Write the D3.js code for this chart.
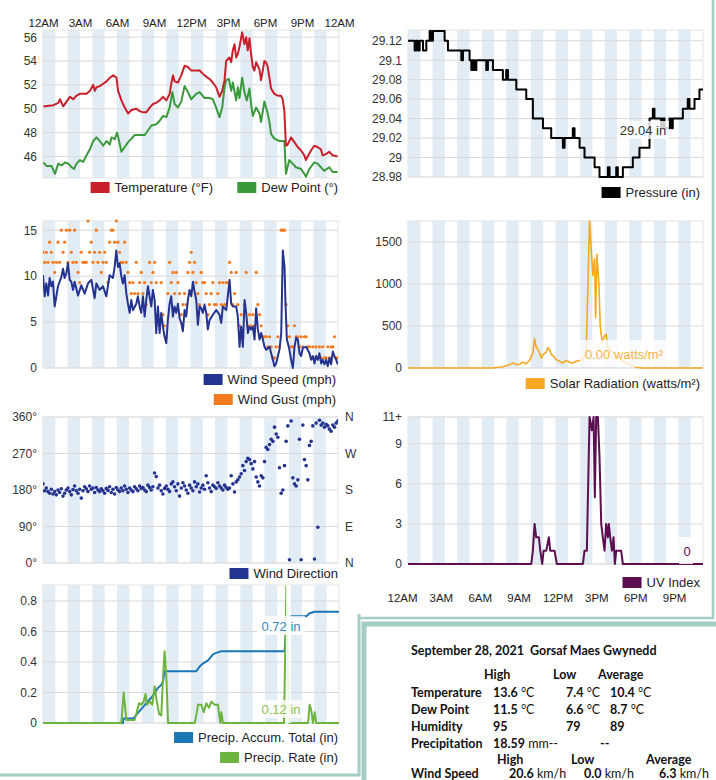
<!DOCTYPE html>
<html><head><meta charset="utf-8">
<script src="https://cdn.jsdelivr.net/npm/d3@7"></script>
<style>
body{margin:0;background:#fff}
svg{display:block}
</style>
</head><body>
<svg id="c" width="716" height="780"></svg>
<script>
// ---------------- DATA ----------------
const hourTicks = [0,3,6,9,12,15,18,21,24];
const hourLabels = ["12AM","3AM","6AM","9AM","12PM","3PM","6PM","9PM","12AM"];
const stripeStarts = [0,2,4,6,8,10,12,14,16,18,20,22];

const tempTicks = [46,48,50,52,54,56];
const pressureTicks = [28.98,29,29.02,29.04,29.06,29.08,29.1,29.12];
const windTicks = [0,5,10,15];
const solarTicks = [0,500,1000,1500];
const dirTicks = [0,90,180,270,360];
const compassLabels = ["N","E","S","W","N"];
const uvTicks = [0,3,6,9,11];
const precipTicks = [0,0.2,0.4,0.6,0.8];

// [hour, °F]
const temperature = [[0.03,50.2],[0.84,50.3],[1.24,50.5],[1.37,50.8],[1.64,50.2],[1.91,50.6],[2.18,51.0],[2.45,50.8],[2.72,51.1],[2.99,51.25],[3.53,51.25],[3.80,51.5],[4.07,52.0],[4.20,51.5],[4.34,51.8],[4.61,51.9],[4.88,52.1],[5.15,52.3],[5.42,52.6],[5.69,52.8],[5.96,52.6],[6.09,51.5],[6.36,50.7],[6.63,50.1],[6.90,49.6],[7.17,49.9],[7.57,50.0],[7.84,49.8],[8.11,49.7],[8.38,49.7],[8.65,50.1],[8.92,50.4],[9.19,50.5],[9.46,50.7],[9.73,51.0],[10.0,50.7],[10.27,51.25],[10.40,52.1],[10.54,52.8],[10.67,52.3],[10.94,52.2],[11.21,52.8],[11.48,53.6],[11.75,53.5],[12.02,53.2],[12.29,53.2],[12.70,53.2],[13.10,52.8],[13.50,52.5],[13.77,52.2],[14.04,51.8],[14.31,51.0],[14.53,51.5],[14.72,52.4],[14.85,54.0],[15.12,54.3],[15.26,53.9],[15.39,54.9],[15.53,55.4],[15.66,54.3],[15.80,54.6],[15.93,55.2],[16.15,56.4],[16.33,55.4],[16.47,56.0],[16.60,54.9],[16.74,55.9],[16.87,54.6],[17.01,53.5],[17.14,53.2],[17.28,53.9],[17.55,53.3],[17.68,52.4],[17.82,53.2],[17.95,54.0],[18.09,53.9],[18.22,53.5],[18.36,52.6],[18.49,51.7],[18.76,51.25],[19.03,51.1],[19.30,51.1],[19.43,50.8],[19.57,49.8],[19.70,46.9],[19.84,47.0],[20.11,47.6],[20.38,47.2],[20.65,46.8],[20.92,46.5],[21.19,46.1],[21.32,45.7],[21.46,46.0],[21.73,46.5],[21.99,46.9],[22.26,46.8],[22.53,46.6],[22.67,46.1],[22.94,46.2],[23.21,46.4],[23.48,46.1],[23.88,46.0]];

const dewPoint = [[0.03,45.5],[0.30,45.2],[0.70,45.2],[0.97,44.55],[1.24,45.4],[1.51,45.25],[1.78,45.5],[2.05,45.4],[2.32,45.1],[2.51,44.95],[2.72,45.4],[2.99,45.7],[3.26,45.55],[3.53,46.1],[3.80,46.6],[4.07,47.3],[4.34,47.6],[4.61,47.3],[4.88,46.9],[5.15,47.3],[5.42,47.0],[5.55,47.6],[5.82,47.45],[6.01,48.0],[6.17,47.3],[6.36,46.4],[6.63,46.8],[6.90,47.2],[7.17,47.5],[7.44,47.8],[7.84,47.8],[8.25,47.8],[8.52,48.2],[8.79,48.6],[9.19,48.7],[9.46,49.0],[9.73,49.4],[10.0,49.3],[10.27,50.1],[10.49,51.4],[10.67,50.4],[10.94,50.1],[11.21,50.6],[11.48,51.9],[11.75,51.4],[12.02,50.8],[12.43,51.25],[12.70,51.4],[13.10,50.9],[13.50,50.9],[13.77,50.8],[14.04,50.1],[14.31,49.3],[14.53,50.1],[14.72,51.8],[14.85,52.4],[15.07,52.5],[15.26,51.5],[15.39,52.2],[15.66,50.7],[15.80,51.8],[15.93,50.9],[16.15,52.6],[16.33,51.4],[16.52,50.7],[16.74,51.7],[16.87,50.4],[17.01,49.4],[17.28,50.1],[17.55,49.6],[17.68,48.9],[17.95,50.6],[18.09,50.1],[18.22,49.6],[18.36,48.9],[18.49,47.9],[18.76,47.5],[19.16,47.3],[19.57,47.3],[19.70,44.55],[19.97,45.7],[20.24,45.4],[20.51,45.1],[20.92,44.95],[21.19,44.55],[21.32,44.3],[21.59,44.95],[21.99,45.5],[22.26,45.4],[22.53,45.1],[22.80,44.8],[23.21,45.1],[23.48,44.7],[23.88,44.7]];

// [hour, inHg] (step)
const pressure = [[0,29.12],[0.54,29.11],[0.68,29.12],[0.81,29.11],[0.95,29.12],[1.22,29.11],[1.49,29.12],[1.76,29.13],[1.90,29.12],[2.03,29.13],[2.98,29.12],[3.25,29.11],[4.34,29.10],[4.47,29.11],[5.01,29.10],[5.15,29.09],[5.28,29.10],[5.42,29.09],[5.56,29.10],[6.37,29.09],[6.50,29.10],[6.91,29.09],[7.72,29.08],[7.99,29.09],[8.13,29.08],[8.81,29.07],[9.62,29.06],[10.16,29.04],[10.98,29.03],[11.65,29.02],[12.60,29.01],[12.74,29.02],[13.41,29.03],[13.55,29.02],[13.96,29.01],[14.36,29.00],[15.18,28.99],[15.58,28.98],[16.26,28.99],[16.40,28.98],[16.94,28.99],[17.07,28.98],[17.48,28.99],[18.29,29.00],[18.83,29.01],[19.65,29.04],[19.92,29.05],[20.05,29.04],[20.60,29.03],[20.73,29.04],[20.87,29.03],[21.27,29.04],[21.41,29.03],[21.54,29.04],[22.36,29.05],[22.76,29.06],[22.90,29.05],[23.31,29.06],[23.71,29.07],[24,29.07]];

// [hour, mph]
const windSpeed = [[0.00,10.1],[0.14,7.8],[0.27,9.2],[0.41,7.9],[0.54,9.8],[0.68,8.9],[0.81,9.4],[0.95,6.7],[1.22,8.9],[1.49,9.9],[1.63,10.8],[1.76,9.8],[1.90,10.3],[2.03,11.4],[2.17,9.6],[2.30,9.4],[2.44,8.5],[2.57,9.4],[2.85,7.9],[3.12,9.0],[3.39,8.1],[3.66,9.2],[3.93,9.6],[4.20,7.6],[4.34,9.2],[4.61,8.5],[4.88,8.9],[5.15,7.8],[5.42,10.1],[5.69,9.8],[5.83,11.0],[5.96,12.8],[6.10,11.0],[6.23,11.4],[6.37,10.0],[6.50,9.2],[6.64,10.1],[6.78,8.1],[6.91,7.0],[7.05,6.0],[7.18,7.4],[7.32,6.3],[7.59,7.0],[7.72,7.8],[7.86,6.7],[7.99,6.0],[8.13,7.8],[8.27,5.6],[8.40,7.4],[8.54,8.9],[8.67,7.8],[8.81,6.7],[8.94,8.5],[9.08,7.4],[9.21,3.8],[9.35,6.7],[9.49,3.8],[9.62,6.0],[9.76,4.5],[9.89,3.4],[10.03,2.7],[10.16,5.2],[10.30,7.0],[10.43,7.8],[10.57,5.6],[10.70,6.7],[10.84,6.0],[10.98,7.0],[11.11,5.4],[11.25,4.9],[11.38,4.0],[11.52,6.3],[11.65,5.6],[11.79,7.4],[11.92,8.5],[12.06,7.8],[12.20,9.4],[12.33,8.3],[12.47,7.4],[12.60,4.7],[12.74,6.7],[12.87,6.5],[13.01,6.0],[13.14,6.9],[13.28,6.0],[13.41,4.2],[13.55,5.2],[13.82,5.8],[14.09,6.3],[14.36,5.8],[14.50,4.9],[14.63,6.7],[14.91,6.3],[15.18,9.6],[15.31,7.0],[15.45,6.7],[15.72,6.7],[15.85,5.6],[15.99,2.3],[16.12,4.5],[16.26,2.3],[16.40,7.4],[16.53,6.0],[16.67,3.8],[16.80,4.5],[16.94,4.2],[17.07,4.5],[17.21,3.1],[17.34,6.5],[17.48,4.2],[17.62,3.1],[17.75,3.8],[17.89,3.1],[18.02,2.3],[18.16,2.0],[18.43,2.3],[18.56,1.6],[18.70,0.9],[18.83,0.2],[18.97,0.5],[19.11,1.3],[19.24,2.0],[19.38,3.8],[19.51,12.8],[19.65,11.0],[19.73,7.0],[19.84,3.1],[20.00,2.3],[20.19,0.9],[20.33,0.0],[20.46,2.3],[20.60,3.3],[20.73,3.1],[20.87,1.6],[21.00,1.3],[21.14,2.2],[21.41,2.3],[21.68,1.6],[21.82,0.9],[21.95,1.3],[22.09,0.5],[22.22,1.3],[22.36,0.9],[22.49,1.6],[22.63,0.5],[22.76,0.9],[22.90,0.4],[23.04,0.9],[23.17,0.2],[23.31,1.1],[23.44,0.4],[23.58,1.8],[23.71,1.3],[23.85,0.9],[23.98,0.4]];

// regularly sampled series (one reading every ~8.1 minutes from midnight)
const sampleStepHours = 0.1355;
const windGust = [12.6,11.5,12.6,11.5,13.7,12.6,11.5,10.4,11.5,13.7,
11.5,15.0,12.6,13.7,15.0,11.5,15.0,12.6,11.5,15.0,
11.5,10.4,9.3,12.6,11.5,11.5,11.5,16.0,12.6,13.7,
11.5,12.6,15.0,11.5,12.6,10.4,11.5,12.6,11.5,9.3,
13.7,15.0,15.0,13.7,16.0,13.7,12.6,11.5,11.5,13.7,
11.5,10.4,9.3,8.1,9.3,8.1,11.5,8.1,9.3,10.4,
8.1,9.3,6.9,8.1,11.5,9.3,10.4,11.5,9.3,5.8,
4.6,9.3,5.8,4.6,3.4,8.1,11.5,9.3,10.4,8.1,
10.4,9.3,8.1,5.8,6.9,8.1,6.9,10.4,11.5,12.6,
10.4,11.5,9.3,8.1,6.9,10.4,9.3,9.3,8.1,5.8,
6.9,8.1,9.3,6.9,6.9,8.1,9.3,6.9,9.3,6.9,
9.3,9.3,11.5,10.4,6.9,8.1,10.4,6.9,4.6,5.8,
3.4,6.9,10.4,4.6,5.8,4.6,5.8,4.6,10.4,6.9,
5.8,4.6,3.4,3.4,3.4,2.3,3.4,2.3,1.1,1.1,
2.3,3.4,2.3,15.0,15.0,15.0,6.9,4.6,3.4,2.3,
2.3,4.6,3.4,3.4,2.3,3.4,2.3,3.4,3.4,2.3,
2.3,1.1,2.3,1.1,2.3,1.1,2.3,1.1,2.3,1.1,
1.1,2.3,1.1,2.3,2.3,3.4,1.1,1.1];

const windDirection = [195,178,185,176,172,182,170,176,168,180,
174,183,165,172,180,185,176,168,181,190,
178,172,182,160,178,188,183,176,190,182,
185,174,186,180,176,183,178,172,184,179,
188,174,182,170,186,180,176,185,178,190,
182,174,185,180,176,188,183,178,190,184,
186,180,176,192,186,180,188,222,213,185,
192,178,170,184,190,182,176,195,200,188,
178,195,165,185,198,190,180,172,192,185,
178,200,188,195,175,185,192,182,215,198,
185,176,192,188,184,198,190,185,180,192,
186,182,185,215,195,175,200,205,212,220,
240,228,250,258,255,245,232,250,212,200,
190,215,210,250,285,280,292,305,300,335,
318,310,235,172,180,240,300,338,8,350,
210,195,190,205,305,8,340,255,240,205,
290,300,338,10,345,88,352,340,345,335,
342,338,330,325,340,335,345,350];

// [hour, W/m²]
const solar = [[0,0],[6.91,0],[7.18,5],[7.72,15],[8.27,40],[8.54,60],[8.81,40],[9.08,45],[9.35,70],[9.62,50],[9.89,90],[10.16,180],[10.30,350],[10.43,250],[10.57,220],[10.70,180],[10.84,120],[10.98,160],[11.25,190],[11.38,240],[11.52,220],[11.65,160],[11.79,150],[12.06,100],[12.33,80],[12.60,60],[12.87,90],[13.14,70],[13.41,60],[13.69,80],[13.96,90],[14.23,100],[14.50,200],[14.77,1750],[14.91,1400],[15.04,1100],[15.18,1300],[15.26,600],[15.37,1350],[15.53,1000],[15.64,500],[15.80,300],[15.99,380],[16.12,400],[16.26,250],[16.53,200],[16.94,150],[17.48,80],[18.02,40],[18.56,10],[19.11,0],[24,0]];

// [hour, UV index]
const uvIndex = [[0,0],[10.03,0],[10.16,1],[10.30,3],[10.43,2],[10.65,2],[10.76,1],[10.92,0],[11.03,1],[11.25,1],[11.46,2],[11.57,1],[11.92,1],[12.11,0],[14.23,0],[14.36,1],[14.55,1],[14.77,11],[14.96,10],[15.10,11],[15.20,5],[15.31,11],[15.45,11],[15.58,8],[15.72,3],[15.85,2],[15.99,1],[16.12,3],[16.26,2],[16.34,3],[16.45,2],[16.59,1],[16.72,2],[16.83,0],[16.94,1],[17.34,1],[17.48,0],[24,0]];

// [hour, in]
const precipAccum = [[0,0],[6.49,0],[6.50,0.03],[7.30,0.03],[7.43,0.04],[7.84,0.08],[8.38,0.13],[8.92,0.18],[9.32,0.23],[9.59,0.25],[9.73,0.27],[9.86,0.34],[12.43,0.34],[12.70,0.37],[12.97,0.39],[13.38,0.41],[13.78,0.45],[14.05,0.46],[14.46,0.47],[19.59,0.47],[19.78,0.70],[21.35,0.70],[21.62,0.72],[22.03,0.73],[24,0.73]];
const precipRate = [[0,0],[6.35,0],[6.54,0.20],[6.76,0.02],[7.43,0.02],[7.57,0.06],[7.78,0.13],[7.97,0.12],[8.16,0.14],[8.32,0.19],[8.43,0.12],[8.65,0.14],[8.86,0.12],[9.05,0.24],[9.19,0.16],[9.41,0.06],[9.59,0.05],[9.73,0.30],[9.86,0.47],[10.0,0.30],[10.14,0],[12.30,0],[12.43,0.05],[12.57,0.12],[12.84,0.12],[13.03,0.07],[13.24,0.13],[13.46,0.10],[13.65,0.14],[13.92,0.12],[14.19,0.12],[14.27,0.06],[14.38,0],[14.46,0.07],[14.59,0],[19.54,0],[19.73,0.90],[19.95,0],[21.49,0],[21.62,0.12],[21.76,0.08],[21.89,0],[22.03,0.07],[22.16,0],[24,0]];

const tableTitle = "September 28, 2021  Gorsaf Maes Gwynedd";
const tableHeader = ["High","Low","Average"];
const tableRows = [
  ["Temperature", ["13.6"," °C"], ["7.4"," °C"], ["10.4"," °C"]],
  ["Dew Point",   ["11.5"," °C"], ["6.6"," °C"], ["8.7"," °C"]],
  ["Humidity",    ["95",""], ["79",""], ["89",""]],
  ["Precipitation", ["18.59"," mm--"], ["--",""], null]
];
const windRow = ["Wind Speed", ["20.6"," km/h"], ["0.0"," km/h"], ["6.3"," km/h"]];

// ---------------- DRAWING ----------------
const FONT = '"Liberation Sans", Arial, Helvetica, sans-serif';
const STRIPE = "#e2ecf5";
const svg = d3.select("#c");
let clipN = 0;

function makePanel(o){
  const xs = d3.scaleLinear().domain([0,24]).range([o.x0,o.x1]);
  const ys = d3.scaleLinear().domain(o.domain).range([o.y1,o.y0]);
  const g = svg.append("g");
  g.append("rect").attr("x",o.x0).attr("y",o.y0).attr("width",o.x1-o.x0).attr("height",o.y1-o.y0).attr("fill","#fff");
  g.selectAll("rect.s").data(stripeStarts).join("rect").attr("class","s")
    .attr("x",d=>xs(d)).attr("y",o.y0).attr("width",d=>xs(d+1)-xs(d)).attr("height",o.y1-o.y0).attr("fill",STRIPE);
  g.selectAll("line.gy").data(o.ticks).join("line").attr("class","gy")
    .attr("x1",o.x0).attr("x2",o.x1).attr("y1",d=>ys(d)).attr("y2",d=>ys(d))
    .attr("stroke","#d9d9d9").attr("stroke-width",1);
  g.append("rect").attr("x",o.x0).attr("y",o.y0).attr("width",o.x1-o.x0).attr("height",o.y1-o.y0)
    .attr("fill","none").attr("stroke","#e3e3e3");
  const ax = d3.axisLeft(ys).tickValues(o.ticks).tickFormat(o.fmt).tickSize(0).tickPadding(6);
  const ag = g.append("g").attr("transform",`translate(${o.x0},0)`).call(ax);
  ag.select(".domain").remove();
  ag.selectAll("text").attr("font-size",12).attr("fill","#333").attr("font-family",FONT);
  const id = "clip"+(clipN++);
  svg.append("clipPath").attr("id",id).append("rect")
    .attr("x",o.x0).attr("y",o.y0-2).attr("width",o.x1-o.x0).attr("height",o.y1-o.y0+3);
  const plot = svg.append("g").attr("clip-path",`url(#${id})`);
  return {xs,ys,g,plot};
}

function legend(xEnd, baseline, color, label){
  const t = svg.append("text").attr("x",xEnd).attr("y",baseline).attr("text-anchor","end")
    .attr("font-size",13).attr("font-family",FONT).attr("fill","#222").text(label);
  const w = t.node().getComputedTextLength();
  svg.append("rect").attr("x",xEnd-w-24).attr("y",baseline-10).attr("width",19).attr("height",11).attr("fill",color);
}

function drawLine(p, data, color, width, curve){
  const ln = d3.line().x(d=>p.xs(d[0])).y(d=>p.ys(d[1]));
  if(curve) ln.curve(curve);
  p.plot.append("path").datum(data).attr("d",ln).attr("fill","none")
    .attr("stroke",color).attr("stroke-width",width).attr("stroke-linejoin","round");
}

function tip(x,y,w,h,op){
  svg.append("rect").attr("x",x).attr("y",y).attr("width",w).attr("height",h).attr("fill","#fff").attr("opacity",op);
}
function tipText(x,y,color,txt){
  svg.append("text").attr("x",x).attr("y",y).attr("text-anchor","middle").attr("font-size",13)
    .attr("font-family",FONT).attr("fill",color).text(txt);
}

const fmtPlain = d=>String(+d.toFixed(2));

// Temperature panel
const pT = makePanel({x0:43,x1:339,y0:30,y1:178,domain:[44.2,56.6],ticks:tempTicks,fmt:fmtPlain});
const topAx = d3.axisTop(pT.xs).tickValues(hourTicks).tickFormat((d,i)=>hourLabels[i]).tickSize(0).tickPadding(3);
const tg = svg.append("g").attr("transform","translate(0,30)").call(topAx);
tg.select(".domain").remove();
tg.selectAll("text").attr("font-size",11.5).attr("fill","#222").attr("font-family",FONT);
drawLine(pT, dewPoint, "#3a9a3b", 2);
drawLine(pT, temperature, "#c8202b", 2);
legend(213,192,"#c8202b","Temperature (°F)");
legend(338,192,"#3a9a3b","Dew Point (°)");

// Pressure panel
const pP = makePanel({x0:408,x1:703,y0:30,y1:177,domain:[28.98,29.131],ticks:pressureTicks,fmt:fmtPlain});
drawLine(pP, pressure, "#000", 2, d3.curveStepAfter);
tip(617,121,52,18,0.8);
tipText(643,135,"#333","29.04 in");
legend(700,197,"#000","Pressure (in)");

// Wind panel
const pW = makePanel({x0:43,x1:338,y0:221,y1:368,domain:[0,16],ticks:windTicks,fmt:fmtPlain});
pW.plot.selectAll("circle.g").data(windGust).join("circle").attr("class","g")
  .attr("cx",(d,i)=>pW.xs(i*sampleStepHours)).attr("cy",d=>pW.ys(d)).attr("r",1.6).attr("fill","#f47a20");
drawLine(pW, windSpeed, "#24338f", 2);
legend(336,384,"#24338f","Wind Speed (mph)");
legend(336,404,"#f47a20","Wind Gust (mph)");

// Solar panel
const pS = makePanel({x0:408,x1:703,y0:221,y1:368,domain:[0,1750],ticks:solarTicks,fmt:fmtPlain});
drawLine(pS, solar, "#f6a820", 1.6);
tip(580,340,90,27,0.75);
tipText(624,359,"#f5b443","0.00 watts/m²");
legend(700,388,"#f6a820","Solar Radiation (watts/m²)");

// Wind direction panel
const pD = makePanel({x0:43,x1:338,y0:417,y1:563,domain:[0,360],ticks:dirTicks,fmt:d=>d+"°"});
pD.plot.selectAll("circle.d").data(windDirection).join("circle").attr("class","d")
  .attr("cx",(d,i)=>pD.xs(i*sampleStepHours)).attr("cy",d=>pD.ys(d)).attr("r",1.8).attr("fill","#24338f");
svg.append("g").selectAll("text").data(dirTicks).join("text")
  .attr("x",345).attr("y",d=>pD.ys(d)).attr("dy","0.35em").attr("font-size",12).attr("fill","#333")
  .attr("font-family",FONT).text((d,i)=>compassLabels[i]);
legend(338,578,"#24338f","Wind Direction");

// UV panel
const pU = makePanel({x0:408,x1:703,y0:417,y1:564,domain:[0,11],ticks:uvTicks,fmt:d=>d===11?"11+":String(d)});
drawLine(pU, uvIndex, "#5c0f50", 2);
tip(679,537,14,27,0.85);
tipText(687,556,"#5c0f50","0");
legend(700,587,"#5c0f50","UV Index");
const labScale = d3.scaleLinear().domain([0,24]).range([402,713]);
const bg = svg.append("g").attr("transform","translate(0,591)")
  .call(d3.axisBottom(labScale).tickValues(hourTicks.slice(0,8)).tickFormat((d,i)=>hourLabels[i]).tickSize(0).tickPadding(3));
bg.select(".domain").remove();
bg.selectAll("text").attr("font-size",11.5).attr("fill","#222").attr("font-family",FONT);

// Precip panel
const pR = makePanel({x0:43,x1:339,y0:585,y1:723,domain:[0,0.905],ticks:precipTicks,fmt:d=>d===0?"0":d.toFixed(1)});
drawLine(pR, precipAccum, "#1b76b6", 2);
drawLine(pR, precipRate, "#6cb33f", 2);
tip(286,585,5,138,0.85);
tip(257,616,48,19,0.8);
tipText(281,631,"#3a87c0","0.72 in");
tip(257,700,48,18,0.8);
tipText(281,714,"#8fc24c","0.12 in");
legend(338,742,"#1b76b6","Precip. Accum. Total (in)");
legend(338,762,"#6cb33f","Precip. Rate (in)");

// Frames
const FR = "#a4cdc6";
svg.append("path").attr("d","M360,618 H713 V0").attr("fill","none").attr("stroke",FR).attr("stroke-width",2.5);
svg.append("path").attr("d","M0,775 H359 V614").attr("fill","none").attr("stroke",FR).attr("stroke-width",3);
svg.append("rect").attr("x",364).attr("y",624).attr("width",400).attr("height",200)
  .attr("fill","#fff").attr("stroke",FR).attr("stroke-width",5);

// Table
const TF = 'Lato, "Open Sans", sans-serif';
const tt = svg.append("g").attr("font-family",TF).attr("font-size",12.5).attr("fill","#111");
tt.append("text").attr("x",411).attr("y",655).attr("font-weight","bold").style("white-space","pre").text(tableTitle);
const hdr1X = [484,553,598], colX = [493,566,610];
tt.selectAll("text.h1").data(tableHeader).join("text").attr("class","h1")
  .attr("x",(d,i)=>hdr1X[i]).attr("y",679).attr("font-weight","bold").text(d=>d);
const rowY = [697,714,731,748];
tableRows.forEach((r,ri)=>{
  tt.append("text").attr("x",411).attr("y",rowY[ri]).attr("font-weight","bold").text(r[0]);
  [r[1],r[2],r[3]].forEach((c,ci)=>{
    if(!c) return;
    let x = colX[ci];
    if(ri===3 && ci===1) x = 600;
    const t = tt.append("text").attr("x",x).attr("y",rowY[ri]);
    t.append("tspan").attr("font-weight","bold").text(c[0]);
    if(c[1]) t.append("tspan").style("white-space","pre").text(c[1]);
  });
});
const hdr2X = [497,571,646];
tt.selectAll("text.h2").data(tableHeader).join("text").attr("class","h2")
  .attr("x",(d,i)=>hdr2X[i]).attr("y",764).attr("font-weight","bold").text(d=>d);
const wsX = [509,584,659];
tt.append("text").attr("x",411).attr("y",778).attr("font-weight","bold").text(windRow[0]);
[windRow[1],windRow[2],windRow[3]].forEach((c,ci)=>{
  const t = tt.append("text").attr("x",wsX[ci]).attr("y",778);
  t.append("tspan").attr("font-weight","bold").text(c[0]);
  t.append("tspan").style("white-space","pre").text(c[1]);
});
</script>
</body></html>
